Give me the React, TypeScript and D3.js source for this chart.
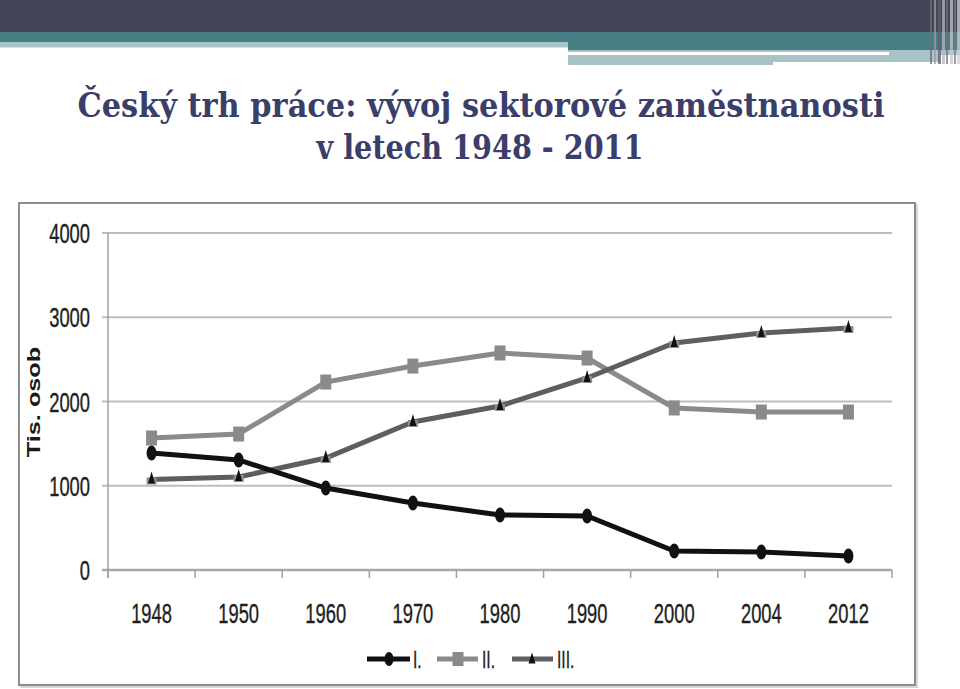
import React from 'react';
import * as d3 from 'd3';

const years = ['1948', '1950', '1960', '1970', '1980', '1990', '2000', '2004', '2012'];
const sectorI = [1389, 1306, 973, 795, 653, 641, 226, 214, 166];
const sectorII = [1567, 1614, 2231, 2421, 2576, 2516, 1923, 1875, 1875];
const sectorIII = [1075, 1104, 1329, 1757, 1947, 2279, 2694, 2813, 2872];
const yTicks = [0, 1000, 2000, 3000, 4000];
const seriesNames = ['I.', 'II.', 'III.'];
const titleLine1 = 'Český trh práce: vývoj sektorové zaměstnanosti';
const titleLine2 = 'v letech 1948 - 2011';
const yAxisTitle = 'Tis. osob';

const W = 960;
const H = 689;
const plot = { left: 108, right: 892, top: 233, bottom: 570 };
const labelFont = '"Liberation Sans", Arial, sans-serif';

function Cond({ x, y, anchor, size, children, fill = '#1e1e1e' }: any) {
  return (
    <g transform={`translate(${x},${y}) scale(0.68,1)`}>
      <text
        textAnchor={anchor}
        fontSize={size}
        fontFamily={labelFont}
        fill={fill}
        stroke={fill}
        strokeWidth={0.35}
      >
        {children}
      </text>
    </g>
  );
}

export default function App() {
  const x = d3.scaleBand<string>().domain(years).range([plot.left, plot.right]).paddingInner(0).paddingOuter(0);
  const y = d3.scaleLinear().domain([0, 4000]).range([plot.bottom, plot.top]);
  const cx = (yr: string) => (x(yr) as number) + x.bandwidth() / 2;
  const line = d3
    .line<number>()
    .x((_, i) => cx(years[i]))
    .y((d) => y(d));

  const colI = '#111111';
  const colII = '#8a8a8a';
  const colIII = '#5e5e5e';

  const tri = (px: number, py: number, w: number, h: number) =>
    `M${px - w / 2},${py + h / 2}L${px},${py - h / 2}L${px + w / 2},${py + h / 2}Z`;

  const boundaries = years.map((yr) => x(yr) as number).concat([plot.right]);

  const stripes = [
    { x: 930, w: 2, c: '#6d6e7c' },
    { x: 934, w: 2, c: '#9a9ba6' },
    { x: 938, w: 3, c: '#5c5d6c' },
    { x: 942, w: 3, c: '#b4b4bc' },
    { x: 946, w: 2, c: '#70717f' },
    { x: 950, w: 3, c: '#c4c4cc' },
    { x: 954, w: 2, c: '#7a7b88' },
    { x: 957, w: 3, c: '#d0d0d6' },
  ];

  return (
    <div style={{ position: 'fixed', left: 0, top: 0, width: W, height: H, background: '#fff' }}>
      <svg width={W} height={H} style={{ display: 'block' }}>
        <rect x={0} y={0} width={W} height={H} fill="#ffffff" />
        {/* header */}
        <rect x={0} y={0} width={W} height={32} fill="#434457" />
        <rect x={0} y={32} width={W} height={10} fill="#467e83" />
        <rect x={0} y={42} width={568} height={5} fill="#a7c3c6" />
        <rect x={0} y={47} width={568} height={1} fill="#d6e4e6" />
        <rect x={568} y={42} width={W - 568} height={8} fill="#467e83" />
        <rect x={568} y={50} width={W - 568} height={2} fill="#a7c3c6" />
        <rect x={568} y={52} width={321} height={3} fill="#ffffff" />
        <rect x={889} y={52} width={W - 889} height={3} fill="#a7c3c6" />
        <rect x={568} y={55} width={205} height={10} fill="#a7c3c6" />
        <rect x={773} y={55} width={167} height={7} fill="#a7c3c6" />
        {stripes.map((s, i) => (
          <rect key={i} x={s.x} y={0} width={s.w} height={64} fill={s.c} opacity={0.75} />
        ))}

        {/* title */}
        <text
          x={481}
          y={117}
          textAnchor="middle"
          fontFamily='"DejaVu Serif", serif'
          fontWeight="bold"
          fontSize={33}
          fill="#393e6a"
          textLength={807}
          lengthAdjust="spacingAndGlyphs"
        >
          {titleLine1}
        </text>
        <text
          x={480}
          y={159}
          textAnchor="middle"
          fontFamily='"DejaVu Serif", serif'
          fontWeight="bold"
          fontSize={33}
          fill="#393e6a"
          textLength={327}
          lengthAdjust="spacingAndGlyphs"
        >
          {titleLine2}
        </text>

        {/* chart frame */}
        <rect x={21} y={205} width={896} height={482} fill="none" stroke="#d8d8d8" strokeWidth={2} />
        <rect x={19} y={203} width={896} height={482} fill="#ffffff" stroke="#8c8c8c" strokeWidth={2} />

        {/* gridlines */}
        {yTicks.map((t) => (
          <line
            key={t}
            x1={plot.left - 6}
            x2={plot.right}
            y1={y(t)}
            y2={y(t)}
            stroke={t === 0 ? '#a8a8a8' : '#bdbdbd'}
            strokeWidth={t === 0 ? 2.5 : 2}
          />
        ))}
        <line x1={plot.left} x2={plot.left} y1={plot.top} y2={plot.bottom + 8} stroke="#a0a0a0" strokeWidth={1.5} />
        {boundaries.map((b, i) => (
          <line key={i} x1={b} x2={b} y1={plot.bottom} y2={plot.bottom + 8} stroke="#a0a0a0" strokeWidth={1.5} />
        ))}

        {/* y labels */}
        {yTicks.map((t) => (
          <Cond key={t} x={90} y={y(t) + 10} anchor="end" size={27}>
            {String(t)}
          </Cond>
        ))}
        {/* x labels */}
        {years.map((yr) => (
          <Cond key={yr} x={cx(yr)} y={623} anchor="middle" size={27}>
            {yr}
          </Cond>
        ))}

        {/* y axis title */}
        <g transform={`translate(40,402) rotate(-90) scale(1.33,1)`}>
          <text textAnchor="middle" fontFamily={labelFont} fontWeight="bold" fontSize={19} fill="#1a1a1a">
            {yAxisTitle}
          </text>
        </g>

        {/* series II */}
        <path d={line(sectorII) || ''} fill="none" stroke={colII} strokeWidth={5} />
        {sectorII.map((v, i) => (
          <rect key={i} x={cx(years[i]) - 5.5} y={y(v) - 7.5} width={11} height={15} fill={colII} />
        ))}
        {/* series III */}
        <path d={line(sectorIII) || ''} fill="none" stroke={colIII} strokeWidth={5} />
        {sectorIII.map((v, i) => (
          <g key={i}>
            <rect x={cx(years[i]) - 5} y={y(v) - 2} width={10} height={7} fill="#8e8e8e" />
            <path d={tri(cx(years[i]), y(v) - 2, 7, 12)} fill="#111" />
          </g>
        ))}
        {/* series I */}
        <path d={line(sectorI) || ''} fill="none" stroke={colI} strokeWidth={5} />
        {sectorI.map((v, i) => (
          <ellipse key={i} cx={cx(years[i])} cy={y(v)} rx={5} ry={7.5} fill={colI} />
        ))}

        {/* legend */}
        <line x1={367} x2={410} y1={659} y2={659} stroke={colI} strokeWidth={5} />
        <ellipse cx={389} cy={659} rx={4.5} ry={7} fill={colI} />
        <Cond x={413} y={668} anchor="start" size={23}>
          {seriesNames[0]}
        </Cond>
        <line x1={437} x2={478} y1={659} y2={659} stroke={colII} strokeWidth={5} />
        <rect x={452.5} y={652} width={11} height={14} fill={colII} />
        <Cond x={482} y={668} anchor="start" size={23}>
          {seriesNames[1]}
        </Cond>
        <line x1={512} x2={553} y1={659} y2={659} stroke={colIII} strokeWidth={5} />
        <path d={tri(532, 658, 7, 11)} fill="#111" />
        <Cond x={557} y={668} anchor="start" size={23}>
          {seriesNames[2]}
        </Cond>
      </svg>
    </div>
  );
}
